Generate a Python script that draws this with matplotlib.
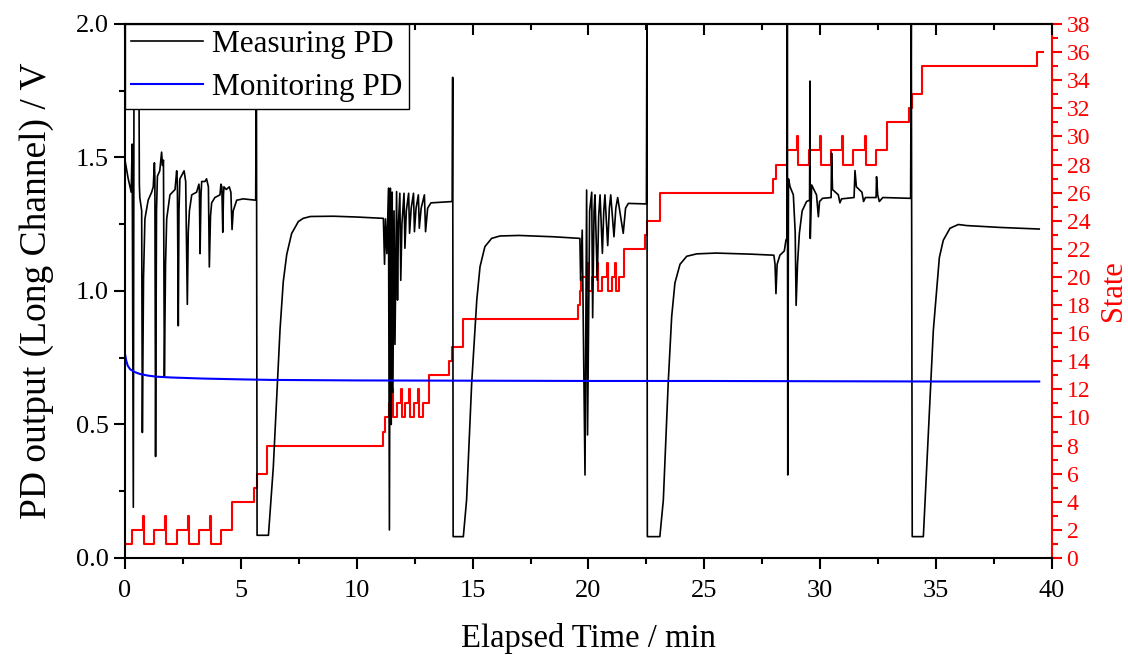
import matplotlib.pyplot as plt
from matplotlib.ticker import MultipleLocator, FormatStrFormatter

plt.rcParams['font.family'] = 'serif'
plt.rcParams['font.serif'] = ['Liberation Serif', 'DejaVu Serif']

# Seccion 1: datos

# Measuring PD (min, V)
meas_t = [0.00, 0.14, 0.27, 0.31, 0.36, 0.39, 0.60, 0.62, 0.64, 0.72, 0.75, 0.80, 0.86, 1.00, 1.15,
          1.22, 1.27, 1.29, 1.32, 1.36, 1.40, 1.50, 1.56, 1.58, 1.62, 1.66, 1.70, 1.75, 1.80, 1.94,
          2.16, 2.23, 2.26, 2.30, 2.33, 2.37, 2.49, 2.55, 2.62, 2.69, 2.73, 2.78, 2.88, 3.09, 3.19,
          3.21, 3.24, 3.28, 3.31, 3.45, 3.52, 3.60, 3.64, 3.69, 3.74, 3.88, 4.10, 4.14, 4.18, 4.22,
          4.25, 4.27, 4.37, 4.50, 4.57, 4.62, 4.67, 4.82, 5.10, 5.64, 5.67, 5.70, 6.19, 6.40, 6.69,
          6.83, 6.98, 7.19, 7.48, 7.69, 8.00, 9.00, 10.00, 11.15,
          11.20, 11.24, 11.30, 11.37, 11.41, 11.45, 11.49, 11.53, 11.56, 11.61, 11.65, 11.72, 11.76,
          11.80, 11.86, 11.90, 11.95, 12.04, 12.08, 12.14, 12.24, 12.28, 12.35, 12.45, 12.49, 12.56,
          12.66, 12.70, 12.78, 12.92, 12.97, 13.06, 13.20, 14.12, 14.14, 14.16, 14.60, 14.74, 14.96,
          15.18, 15.32, 15.53, 15.82, 16.18, 17.00, 18.50, 19.63,
          19.66, 19.73, 19.85, 19.92, 19.96, 20.05, 20.14, 20.18, 20.24, 20.28, 20.38, 20.44, 20.50,
          20.60, 20.66, 20.71, 20.83, 20.90, 20.96, 21.10, 21.18, 21.26, 21.50, 21.60, 21.72, 22.50,
          22.52, 22.54, 23.08, 23.23, 23.44, 23.59, 23.73, 23.95, 24.24, 24.67, 25.50, 27.00, 28.00,
          28.05, 28.09, 28.14, 28.26, 28.45, 28.52, 28.57, 28.58, 28.60, 28.63, 28.70, 28.84, 28.92,
          28.96, 29.02, 29.10, 29.22, 29.41, 29.54, 29.56, 29.57, 29.63, 29.84, 29.92, 29.97, 30.10,
          30.47, 30.49, 30.53, 30.78, 30.85, 30.92, 31.46, 31.50, 31.56, 31.80, 31.87, 31.95, 32.41,
          32.43, 32.48, 32.55, 32.70, 33.90, 33.93, 33.97, 34.45, 34.59, 34.88, 35.14, 35.31, 35.60,
          35.96, 36.32, 37.76, 39.45]
meas_v = [1.49, 1.42, 1.37, 1.55, 0.19, 1.90, 1.90, 1.40, 1.35, 1.30, 0.47, 1.05, 1.27, 1.34, 1.37,
          1.39, 1.48, 1.42, 0.38, 1.30, 1.43, 1.45, 1.50, 1.52, 1.47, 1.49, 0.68, 1.10, 1.27, 1.36,
          1.38, 1.45, 1.41, 0.87, 1.30, 1.42, 1.44, 1.45, 1.41, 0.95, 1.22, 1.30, 1.36, 1.37, 1.40,
          1.38, 1.14, 1.36, 1.41, 1.41, 1.42, 1.39, 1.09, 1.28, 1.33, 1.35, 1.36, 1.40, 1.39, 1.22,
          1.36, 1.39, 1.38, 1.39, 1.37, 1.23, 1.30, 1.34, 1.345, 1.34, 1.95, 0.085, 0.085, 0.34, 0.855,
          1.035, 1.137, 1.215, 1.26, 1.272, 1.279, 1.28, 1.277, 1.272,
          1.10, 1.27, 1.14, 1.385, 0.105, 1.385, 0.50, 1.37, 0.62, 1.30, 0.80, 1.372, 0.966,
          1.25, 1.366, 1.04, 1.25, 1.366, 1.16, 1.30, 1.366, 1.216, 1.31, 1.366, 1.222, 1.31,
          1.36, 1.235, 1.31, 1.36, 1.222, 1.31, 1.33, 1.335, 1.80, 0.08, 0.08, 0.217, 0.654,
          0.966, 1.091, 1.166, 1.197, 1.206, 1.208, 1.203, 1.197,
          1.04, 1.228, 0.311, 1.378, 0.461, 1.30, 1.37, 0.90, 1.30, 1.36, 1.04, 1.28, 1.36,
          1.141, 1.30, 1.36, 1.17, 1.31, 1.36, 1.203, 1.31, 1.35, 1.216, 1.31, 1.328, 1.326,
          2.00, 0.08, 0.08, 0.217, 0.655, 0.904, 1.03, 1.10, 1.13, 1.139, 1.142, 1.138, 1.134,
          1.10, 0.99, 1.10, 1.134, 1.15, 1.19, 1.20, 2.00, 0.311, 1.42, 1.39, 1.36, 1.22,
          0.946, 1.10, 1.216, 1.30, 1.335, 1.34, 1.786, 1.197, 1.397, 1.36, 1.278, 1.335, 1.347,
          1.35, 1.516, 1.38, 1.36, 1.33, 1.345, 1.35, 1.451, 1.39, 1.37, 1.335, 1.35, 1.35,
          1.428, 1.36, 1.335, 1.35, 1.347, 2.00, 0.08, 0.08, 0.333, 0.852, 1.125, 1.19, 1.235,
          1.249, 1.245, 1.238, 1.232]

# Monitoring PD (min, V)
mon_t = [0.00, 0.05, 0.12, 0.22, 0.40, 0.65, 1.00, 1.37, 2.00, 3.37, 5.00, 6.26, 10.0, 15.0,
         20.0, 25.0, 30.0, 35.0, 39.45]
mon_v = [0.764, 0.740, 0.720, 0.707, 0.697, 0.689, 0.683, 0.679, 0.676, 0.672, 0.669, 0.667,
         0.665, 0.664, 0.663, 0.663, 0.662, 0.661, 0.661]

# State (min, escalones)
state_t = [0.00, 0.29, 0.76, 0.82, 1.27, 1.73, 1.77, 2.23, 2.73, 2.78, 3.19, 3.67, 3.71, 4.14,
           4.63, 5.58, 5.68, 6.11, 11.12, 11.22, 11.39, 11.50, 11.55, 11.73, 11.90, 11.94, 12.10,
           12.27, 12.31, 12.47, 12.66, 12.70, 12.87, 13.13, 14.00, 14.10, 14.60, 19.56, 19.62,
           19.66, 19.92, 19.96, 20.14, 20.36, 20.40, 20.60, 20.79, 20.83, 21.00, 21.15, 21.19,
           21.32, 21.55, 22.44, 22.51, 23.10, 27.97, 28.08, 28.55, 28.99, 29.04, 29.51, 29.99,
           30.04, 30.45, 30.95, 30.99, 31.43, 31.93, 31.98, 32.39, 32.87, 33.84, 33.95, 34.41,
           39.37, 39.60]
state_v = [1, 2, 3, 1, 2, 3, 1, 2, 3, 1, 2, 3, 1, 2,
           4, 5, 6, 8, 9, 10, 11, 12, 10, 11, 12, 10, 11,
           12, 10, 11, 12, 10, 11, 13, 14, 15, 17, 18, 19,
           20, 21, 19, 20, 21, 19, 20, 21, 19, 20, 21, 19,
           20, 22, 23, 24, 26, 27, 28, 29, 30, 28, 29, 30,
           28, 29, 30, 28, 29, 30, 28, 29, 31, 32, 33, 35,
           36, 36]

# Seccion 2: grafica

fig = plt.figure(figsize=(11.28, 6.55), dpi=100)
ax = fig.add_axes([0.1108, 0.1481, 0.8218, 0.8153])
ax2 = ax.twinx()

ax.plot(meas_t, meas_v, color='black', lw=1.2, label='Measuring PD')
ax.plot(mon_t, mon_v, color='#0000ff', lw=1.5, label='Monitoring PD')
ax2.step(state_t, state_v, where='post', color='#ff0000', lw=1.5)

# negro y azul por encima del rojo
ax.set_zorder(ax2.get_zorder() + 1)
ax.patch.set_visible(False)

ax.set_xlim(0, 40)
ax.set_ylim(0, 2)
ax2.set_ylim(0, 38)

ax.xaxis.set_major_locator(MultipleLocator(5))
ax.xaxis.set_minor_locator(MultipleLocator(2.5))
ax.yaxis.set_major_locator(MultipleLocator(0.5))
ax.yaxis.set_minor_locator(MultipleLocator(0.25))
ax.yaxis.set_major_formatter(FormatStrFormatter('%.1f'))
ax2.yaxis.set_major_locator(MultipleLocator(2))
ax2.yaxis.set_minor_locator(MultipleLocator(1))

ax.tick_params(which='major', direction='out', length=8, width=1.5, labelsize=19, top=False, right=False)
ax.tick_params(which='minor', direction='out', length=4.5, width=1.5, top=False, right=False)
ax.tick_params(axis='x', pad=8)

# ticks arriba hacia dentro
top = ax.secondary_xaxis('top')
top.xaxis.set_major_locator(MultipleLocator(5))
top.xaxis.set_minor_locator(MultipleLocator(2.5))
top.tick_params(which='major', direction='in', length=8, width=1.5, labeltop=False)
top.tick_params(which='minor', direction='in', length=4.5, width=1.5)
top.spines['top'].set_linewidth(1.5)

ax2.tick_params(axis='y', which='major', direction='out', length=7, width=1.5, colors='#ff0000', labelsize=17)
ax2.tick_params(axis='y', which='minor', direction='out', length=4, width=1.5, colors='#ff0000')

for s in ['left', 'bottom', 'top']:
    ax.spines[s].set_linewidth(1.5)
ax.spines['right'].set_visible(False)
ax2.spines['right'].set_color('#ff0000')
ax2.spines['right'].set_linewidth(1.5)
for s in ['left', 'bottom', 'top']:
    ax2.spines[s].set_visible(False)

ax.set_xlabel('Elapsed Time / min', fontsize=23.5, labelpad=15)
ax.set_ylabel('PD output (Long Channel) / V', fontsize=27, labelpad=16)
ax2.set_ylabel('State', fontsize=22, color='#ff0000', labelpad=6)

leg = ax.legend(loc='upper left', bbox_to_anchor=(0, 1), borderaxespad=0, fontsize=22.5,
                frameon=True, fancybox=False, framealpha=1, edgecolor='black',
                handlelength=2.3, handletextpad=0.3, borderpad=0.2, labelspacing=0.45)
leg.get_frame().set_linewidth(1.0)

fig.savefig('out.png', dpi=100)
